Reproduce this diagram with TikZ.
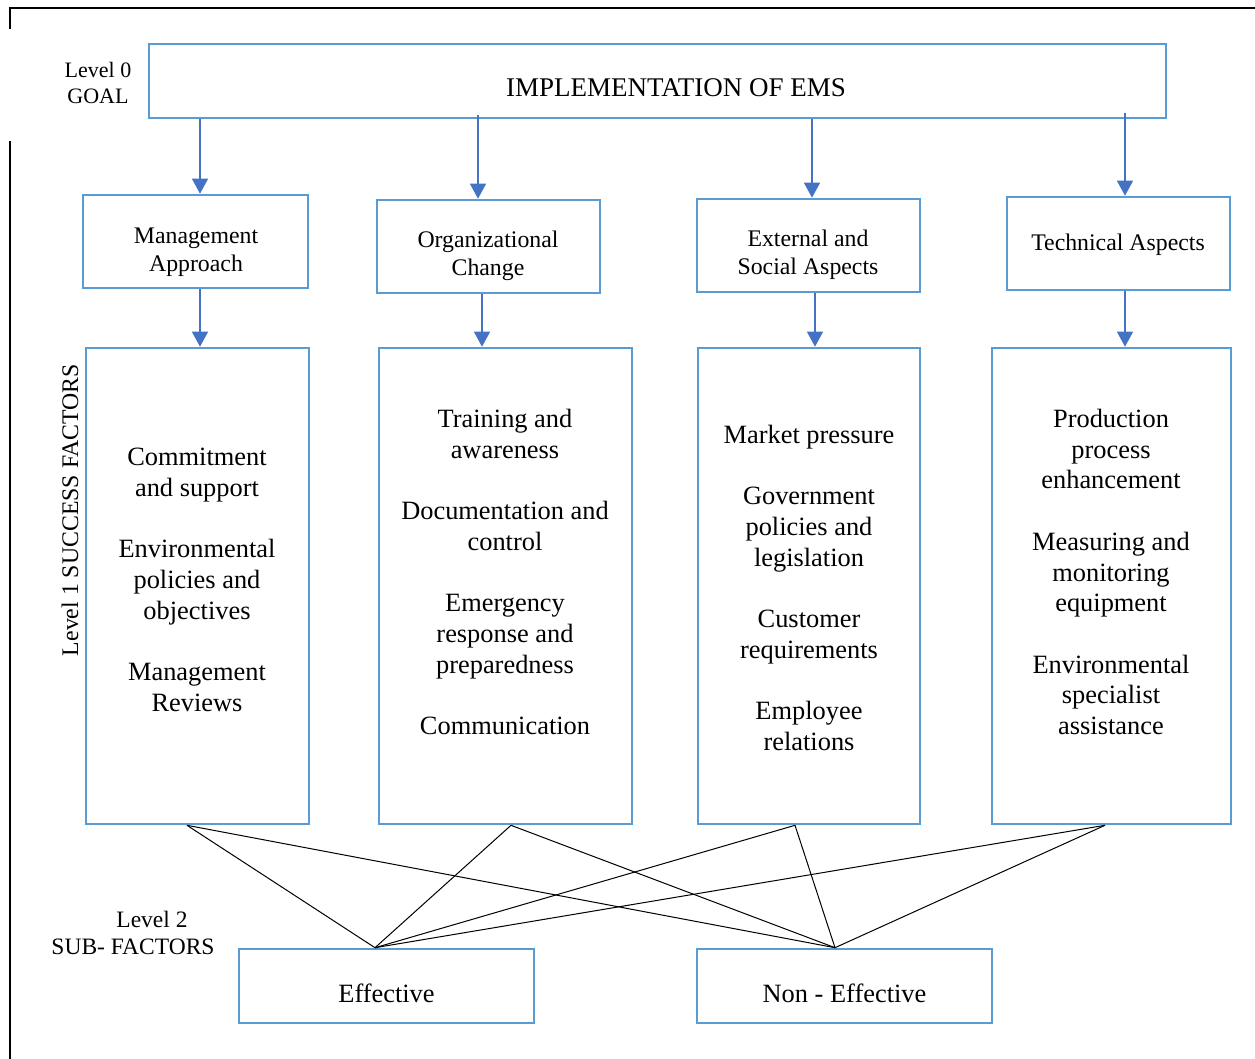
\documentclass[tikz,border=0pt]{standalone}
\usepackage{fontspec}
\setmainfont{Liberation Serif}
\usetikzlibrary{arrows.meta}
\definecolor{boxblue}{RGB}{91,155,213}
\definecolor{arrblue}{RGB}{68,114,196}
\tikzset{
  box/.style={draw=boxblue, line width=2.6pt, inner sep=0pt},
  arr/.style={draw=arrblue, line width=1.3pt, -{Triangle[width=16pt,length=15pt]}},
  link/.style={draw=black, line width=1pt},
  bigtxt/.style={align=center, font=\fontsize{26.4}{30.7}\selectfont, inner sep=0pt},
  smalltxt/.style={align=center, font=\fontsize{23.8}{28}\selectfont, inner sep=0pt},
  lbl/.style={align=center, font=\fontsize{22}{26}\selectfont, inner sep=0pt},
}
\begin{document}
\begin{tikzpicture}[x=1pt,y=-1pt]
\useasboundingbox (0,0) rectangle (1255,1059);
% frame
\draw[line width=1.8pt] (10,29) -- (10,8) -- (1255,8);
\draw[line width=1.8pt] (10,141) -- (10,1059);

% goal
\node[box, minimum width=1017pt, minimum height=74pt] (goal) at (657.5,81) {};
\node[inner sep=0pt, font=\fontsize{27}{29}\selectfont] (goaltxt) at (676,88) {IMPLEMENTATION OF EMS};
\node[lbl] (lvl0) at (98,83) {Level 0\\GOAL};

% level 1 small boxes
\node[box, minimum width=225pt, minimum height=93pt] (ma) at (195.5,241.5) {};
\node[box, minimum width=223pt, minimum height=93pt] (oc) at (488.5,246.5) {};
\node[box, minimum width=223pt, minimum height=93pt] (es) at (808.5,245.5) {};
\node[box, minimum width=223pt, minimum height=93pt] (ta) at (1118.5,243.5) {};
\node[smalltxt] (matxt) at (196,252) {Management\\Approach};
\node[smalltxt] (octxt) at (488,256) {Organizational\\Change};
\node[smalltxt] (estxt) at (808,255) {External and\\Social Aspects};
\node[smalltxt] (tatxt) at (1118,245) {Technical Aspects};

% big boxes
\node[box, minimum width=223pt, minimum height=476pt] (b1) at (197.5,586) {};
\node[box, minimum width=253pt, minimum height=476pt] (b2) at (505.5,586) {};
\node[box, minimum width=222pt, minimum height=476pt] (b3) at (809,586) {};
\node[box, minimum width=239pt, minimum height=476pt] (b4) at (1111.5,586) {};

\node[bigtxt] (b1txt) at (197,580) {Commitment\\and support\\[30.7pt]Environmental\\policies and\\objectives\\[30.7pt]Management\\Reviews};
\node[bigtxt] (b2txt) at (505,572) {Training and\\awareness\\[30.7pt]Documentation and\\control\\[30.7pt]Emergency\\response and\\preparedness\\[30.7pt]Communication};
\node[bigtxt] (b3txt) at (809,588) {Market pressure\\[30.7pt]Government\\policies and\\legislation\\[30.7pt]Customer\\requirements\\[30.7pt]Employee\\relations};
\node[bigtxt] (b4txt) at (1111,572) {Production\\process\\enhancement\\[30.7pt]Measuring and\\monitoring\\equipment\\[30.7pt]Environmental\\specialist\\assistance};

\node[lbl, rotate=90, font=\fontsize{23.8}{26}\selectfont] (lvl1) at (70,510) {Level 1 SUCCESS FACTORS};

% bottom boxes
\node[box, minimum width=295pt, minimum height=74pt] (eff) at (386.5,986) {};
\node[box, minimum width=295pt, minimum height=74pt] (neff) at (844.5,986) {};
\node[inner sep=0pt, font=\fontsize{26.4}{30}\selectfont] (efftxt) at (386.5,993) {Effective};
\node[inner sep=0pt, font=\fontsize{26.4}{30}\selectfont] (nefftxt) at (844.5,993) {Non - Effective};
\node[lbl, font=\fontsize{23.5}{27}\selectfont] (lvl2) at (133,933) {\hspace*{38pt}Level 2\\SUB- FACTORS};

% arrows goal -> level 1
\draw[arr] (goal.south -| 200,0) -- (ma.north -| 200,0);
\draw[arr] (478,115) -- (oc.north -| 478,0);
\draw[arr] (goal.south -| 812,0) -- (es.north -| 812,0);
\draw[arr] (1125,113) -- (ta.north -| 1125,0);
% arrows level 1 -> big boxes
\draw[arr] (ma.south -| 200,0) -- (b1.north -| 200,0);
\draw[arr] (oc.south -| 482,0) -- (b2.north -| 482,0);
\draw[arr] (es.south -| 815,0) -- (b3.north -| 815,0);
\draw[arr] (ta.south -| 1125,0) -- (b4.north -| 1125,0);

% links to level 2
\coordinate (e1) at (eff.north -| 375,0);
\coordinate (n1) at (neff.north -| 835,0);
\coordinate (s1) at (b1.south -| 187,0);
\coordinate (s2) at (b2.south -| 511,0);
\coordinate (s3) at (b3.south -| 795,0);
\coordinate (s4) at (b4.south -| 1105,0);
\foreach \s in {s1,s2,s3,s4}{
  \draw[link] (\s) -- (e1);
  \draw[link] (\s) -- (n1);
}
\end{tikzpicture}
\end{document}
